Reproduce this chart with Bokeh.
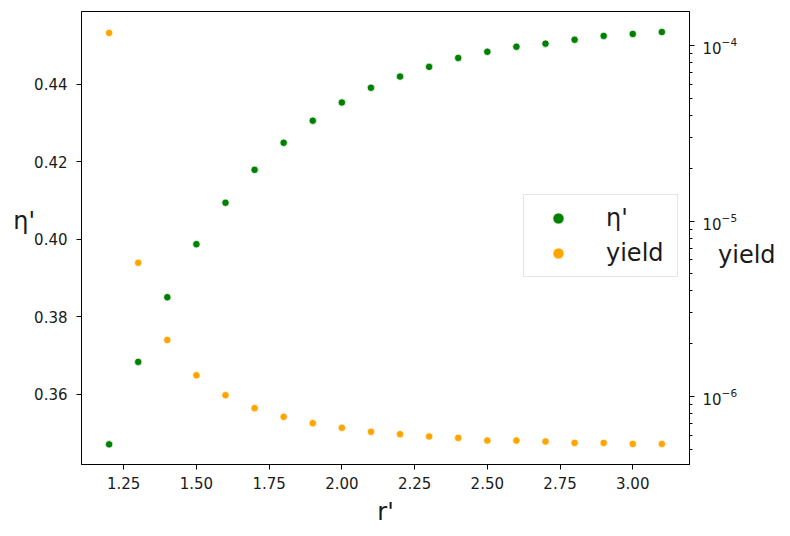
from bokeh.plotting import figure
from bokeh.models import (Range1d, LogAxis, LogScale, FixedTicker, PrintfTickFormatter,
                          Legend, LegendItem, ColumnDataSource)
from bokeh.embed import file_html
from bokeh.resources import INLINE

# ---- data ----
r_prime = [1.2, 1.3, 1.4, 1.5, 1.6, 1.7, 1.8, 1.9, 2.0, 2.1,
           2.2, 2.3, 2.4, 2.5, 2.6, 2.7, 2.8, 2.9, 3.0, 3.1]
eta = [0.3470, 0.3683, 0.3850, 0.3987, 0.4094, 0.4179, 0.4249, 0.4306, 0.4353, 0.4391,
       0.4420, 0.4445, 0.4468, 0.4484, 0.4497, 0.4505, 0.4515, 0.4525, 0.4530, 0.4535]
yield_vals = [1.18e-4, 5.78e-6, 2.10e-6, 1.32e-6, 1.017e-6, 8.58e-7, 7.66e-7, 7.05e-7, 6.63e-7, 6.29e-7,
              6.10e-7, 5.92e-7, 5.81e-7, 5.61e-7, 5.61e-7, 5.54e-7, 5.44e-7, 5.44e-7, 5.37e-7, 5.37e-7]

x_ticks = [1.25, 1.50, 1.75, 2.00, 2.25, 2.50, 2.75, 3.00]
eta_ticks = [0.36, 0.38, 0.40, 0.42, 0.44]
log_major = [1e-6, 1e-5, 1e-4]
log_minor = [k * 10.0 ** e for e in (-7, -6, -5, -4) for k in range(2, 10)]

x_label = "r'"
eta_label = "η'"
yield_label = "yield"

FONT = "DejaVu Sans"
TXT = "#1a1a1a"

p = figure(width=782, height=528, output_backend="svg", toolbar_location=None,
           x_range=Range1d(1.105, 3.195), y_range=Range1d(0.3418, 0.4588),
           min_border_left=81, min_border_right=93, min_border_top=11, min_border_bottom=64)
p.extra_y_ranges = {"log": Range1d(10 ** -6.3875, 10 ** -3.806)}
p.extra_y_scales = {"log": LogScale()}

p.background_fill_color = "white"
p.border_fill_color = "white"
p.outline_line_color = "black"
p.outline_line_alpha = 1.0
p.outline_line_width = 1
p.grid.visible = False

src = ColumnDataSource(dict(r=r_prime, eta=eta, y=yield_vals))
r1 = p.scatter("r", "eta", source=src, size=7.5, fill_color="green",
               line_color="white", line_width=0.8)
r2 = p.scatter("r", "y", source=src, size=7.5, fill_color="orange",
               line_color="white", line_width=0.8, y_range_name="log")

def style_axis(ax, label_size="24px"):
    ax.axis_line_color = "black"
    ax.major_tick_line_color = "black"
    ax.major_tick_out = 5
    ax.major_tick_in = 0
    ax.major_label_text_font = FONT
    ax.major_label_text_font_size = "15px"
    ax.major_label_text_color = TXT
    ax.axis_label_text_font = FONT
    ax.axis_label_text_font_size = label_size
    ax.axis_label_text_font_style = "normal"
    ax.axis_label_text_color = TXT

xa = p.xaxis[0]
style_axis(xa)
xa.ticker = FixedTicker(ticks=x_ticks)
xa.formatter = PrintfTickFormatter(format="%.2f")
xa.minor_tick_line_color = None
xa.major_label_standoff = 7
xa.axis_label = x_label
xa.axis_label_standoff = 6

ya = p.yaxis[0]
style_axis(ya)
ya.ticker = FixedTicker(ticks=eta_ticks)
ya.formatter = PrintfTickFormatter(format="%.2f")
ya.minor_tick_line_color = None
ya.major_label_standoff = 9
# trailing blank line lifts the title slightly, as matplotlib places it
ya.axis_label = eta_label + "\n"
ya.axis_label_orientation = "horizontal"
ya.axis_label_standoff = -4

la = LogAxis(y_range_name="log")
style_axis(la)
la.ticker = FixedTicker(ticks=log_major, minor_ticks=log_minor)
la.minor_tick_line_color = "black"
la.minor_tick_out = 3
la.minor_tick_in = 0
la.major_label_standoff = 8
# leading blank line drops the title just below the 10^-5 label, as in the original
la.axis_label = "\n" + yield_label
la.axis_label_orientation = "horizontal"
la.axis_label_standoff = -22
p.add_layout(la, "right")

legend = Legend(items=[LegendItem(label=eta_label, renderers=[r1]),
                       LegendItem(label=yield_label, renderers=[r2])],
                location=(442, 187))
legend.label_text_font = FONT
legend.label_text_font_size = "24px"
legend.label_text_color = TXT
legend.glyph_width = 50
legend.glyph_height = 28
legend.label_standoff = 23
legend.label_width = 62
legend.label_height = 28
legend.padding = 9
legend.spacing = 7
legend.margin = 0
legend.border_line_color = "#cccccc"
legend.border_line_width = 1
legend.background_fill_color = "white"
legend.background_fill_alpha = 0.8
p.add_layout(legend, "center")

open("out.html", "w").write(file_html(p, INLINE))
